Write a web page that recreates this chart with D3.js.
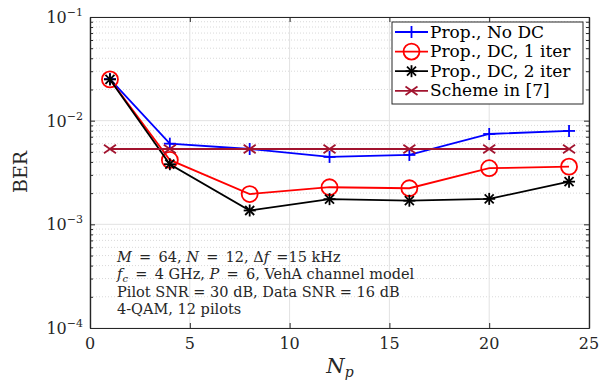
<!DOCTYPE html>
<html>
<head>
<meta charset="utf-8">
<script src="https://cdn.jsdelivr.net/npm/d3@7"></script>
<style>
  body { margin: 0; background: #fff; }
  text { font-family: "DejaVu Serif", serif; }
</style>
</head>
<body>
<script>
// data
const np = [1, 4, 8, 12, 16, 20, 24];
const berNoDC = [0.0252, 0.0060, 0.00533, 0.00447, 0.00467, 0.00744, 0.00796];
const berDC1 = [0.0250, 0.00418, 0.00196, 0.00228, 0.00223, 0.00348, 0.00360];
const berDC2 = [0.0250, 0.0038, 0.00136, 0.00175, 0.00169, 0.00176, 0.00258];
const berRef7 = [0.00533, 0.00533, 0.00533, 0.00533, 0.00533, 0.00533, 0.00533];
const xTicks = [0, 5, 10, 15, 20, 25];
const yTicks = [-4, -3, -2, -1];
const legendLabels = ['Prop., No DC', 'Prop., DC, 1 iter', 'Prop., DC, 2 iter', 'Scheme in [7]'];

const W = 608, H = 381;
const svg = d3.select('body').append('svg').attr('width', W).attr('height', H);

const x = d3.scaleLinear().domain([0, 25]).range([90, 589]);
const y = d3.scaleLog().domain([1e-4, 1e-1]).range([328, 17]);

// grid
const minor = [];
for (let e = -4; e < -1; e++) for (let k = 2; k <= 9; k++) minor.push(k * Math.pow(10, e));

svg.append('g').selectAll('line').data(minor).join('line')
    .attr('x1', 90).attr('x2', 589)
    .attr('y1', d => y(d)).attr('y2', d => y(d))
    .attr('stroke', '#cfcfcf').attr('stroke-width', 0.8).attr('stroke-dasharray', '1,2');

svg.append('g').selectAll('line').data(yTicks).join('line')
    .attr('x1', 90).attr('x2', 589)
    .attr('y1', d => y(Math.pow(10, d))).attr('y2', d => y(Math.pow(10, d)))
    .attr('stroke', '#e2e2e2').attr('stroke-width', 1);

svg.append('g').selectAll('line').data(xTicks).join('line')
    .attr('x1', d => x(d)).attr('x2', d => x(d))
    .attr('y1', 17).attr('y2', 328)
    .attr('stroke', '#e2e2e2').attr('stroke-width', 1);

// axes with inner ticks
const axisColor = '#262626';
const gb = svg.append('g').attr('transform', 'translate(0,328)')
    .call(d3.axisBottom(x).tickValues(xTicks).tickSizeInner(-5).tickSizeOuter(0).tickFormat(''));
const gt = svg.append('g').attr('transform', 'translate(0,17)')
    .call(d3.axisTop(x).tickValues(xTicks).tickSizeInner(-5).tickSizeOuter(0).tickFormat(''));
const gl = svg.append('g').attr('transform', 'translate(90,0)')
    .call(d3.axisLeft(y).tickValues(yTicks.map(e => Math.pow(10, e))).tickSizeInner(-5).tickSizeOuter(0).tickFormat(''));
const gr = svg.append('g').attr('transform', 'translate(589,0)')
    .call(d3.axisRight(y).tickValues(yTicks.map(e => Math.pow(10, e))).tickSizeInner(-5).tickSizeOuter(0).tickFormat(''));
const glm = svg.append('g').attr('transform', 'translate(90,0)')
    .call(d3.axisLeft(y).tickValues(minor).tickSizeInner(-3).tickSizeOuter(0).tickFormat(''));
const grm = svg.append('g').attr('transform', 'translate(589,0)')
    .call(d3.axisRight(y).tickValues(minor).tickSizeInner(-3).tickSizeOuter(0).tickFormat(''));
[gb, gt, gl, gr, glm, grm].forEach(g => {
  g.selectAll('path').attr('stroke', axisColor).attr('stroke-width', 1.2);
  g.selectAll('line').attr('stroke', axisColor);
});

// tick labels
svg.append('g').selectAll('text').data(xTicks).join('text')
    .attr('x', d => x(d)).attr('y', 349)
    .attr('text-anchor', 'middle').attr('font-size', 16).attr('fill', '#262626')
    .text(d => d);

const yl = svg.append('g').selectAll('text').data(yTicks).join('text')
    .attr('x', 83).attr('y', d => y(Math.pow(10, d)) + 6)
    .attr('text-anchor', 'end').attr('font-size', 16).attr('fill', '#262626');
yl.append('tspan').text('10');
yl.append('tspan').attr('dy', -7).attr('font-size', 11).text(d => '\u2212' + Math.abs(d));

// axis labels
svg.append('text')
    .attr('transform', 'translate(27,172) rotate(-90)')
    .attr('text-anchor', 'middle').attr('font-size', 19).attr('fill', '#262626')
    .text('BER');

const xl = svg.append('text').attr('x', 340).attr('y', 373)
    .attr('text-anchor', 'middle').attr('font-size', 21).attr('fill', '#262626');
xl.append('tspan').attr('font-style', 'italic').text('N');
xl.append('tspan').attr('font-style', 'italic').attr('font-size', 14).attr('dy', 4).text('p');

// annotation
const sp = '\u2002';
const notes = svg.append('g').attr('font-size', 14.5).attr('fill', '#262626');
const n1 = notes.append('text').attr('x', 117).attr('y', 262);
n1.append('tspan').attr('font-style', 'italic').text('M');
n1.append('tspan').text(sp + '=' + sp + '64, ');
n1.append('tspan').attr('font-style', 'italic').text('N');
n1.append('tspan').text(sp + '=' + sp + '12, \u0394');
n1.append('tspan').attr('font-style', 'italic').text('f');
n1.append('tspan').text(sp + '=15 kHz');
const n2 = notes.append('text').attr('x', 117).attr('y', 279);
n2.append('tspan').attr('font-style', 'italic').text('f');
n2.append('tspan').attr('font-style', 'italic').attr('font-size', 10).attr('dy', 3).text('c');
n2.append('tspan').attr('dy', -3).text(sp + '=' + sp + '4 GHz, ');
n2.append('tspan').attr('font-style', 'italic').text('P');
n2.append('tspan').text(sp + '=' + sp + '6, VehA channel model');
notes.append('text').attr('x', 117).attr('y', 297).text('Pilot SNR = 30 dB, Data SNR = 16 dB');
notes.append('text').attr('x', 117).attr('y', 314).text('4-QAM, 12 pilots');

// series
const series = [
  { vals: berNoDC, color: '#0000ff', marker: 'plus' },
  { vals: berDC1, color: '#ff0000', marker: 'circle' },
  { vals: berDC2, color: '#000000', marker: 'star' },
  { vals: berRef7, color: '#a2142f', marker: 'cross' }
];

function drawMarker(g, type, color) {
  const s = 6;
  if (type === 'circle') {
    g.append('circle').attr('r', 8).attr('fill', 'none').attr('stroke', color).attr('stroke-width', 1.8);
  } else {
    const segs = [];
    if (type === 'plus' || type === 'star') segs.push([-s, 0, s, 0], [0, -s, 0, s]);
    if (type === 'star') { const c = s * 0.75; segs.push([-c, -c, c, c], [-c, c, c, -c]); }
    if (type === 'cross') segs.push([-s, -s * 0.7, s, s * 0.7], [-s, s * 0.7, s, -s * 0.7]);
    segs.forEach(p => g.append('line').attr('x1', p[0]).attr('y1', p[1]).attr('x2', p[2]).attr('y2', p[3])
        .attr('stroke', color).attr('stroke-width', 1.8));
  }
}

const line = d3.line().x((d, i) => x(np[i])).y(d => y(d));
series.forEach(s => {
  svg.append('path').datum(s.vals).attr('d', line)
      .attr('fill', 'none').attr('stroke', s.color).attr('stroke-width', 1.8);
  s.vals.forEach((v, i) => {
    const g = svg.append('g').attr('transform', `translate(${x(np[i])},${y(v)})`);
    drawMarker(g, s.marker, s.color);
  });
});

// legend
const lg = svg.append('g');
lg.append('rect').attr('x', 392).attr('y', 22).attr('width', 191).attr('height', 82)
    .attr('fill', '#fff').attr('stroke', '#262626').attr('stroke-width', 1);
legendLabels.forEach((lab, i) => {
  const yy = 32 + i * 19.6;
  lg.append('line').attr('x1', 395).attr('x2', 428).attr('y1', yy).attr('y2', yy)
      .attr('stroke', series[i].color).attr('stroke-width', 1.8);
  drawMarker(lg.append('g').attr('transform', `translate(411.5,${yy})`), series[i].marker, series[i].color);
  lg.append('text').attr('x', 430).attr('y', yy + 5.5).attr('font-size', 17).attr('fill', '#000').text(lab);
});
</script>
</body>
</html>
